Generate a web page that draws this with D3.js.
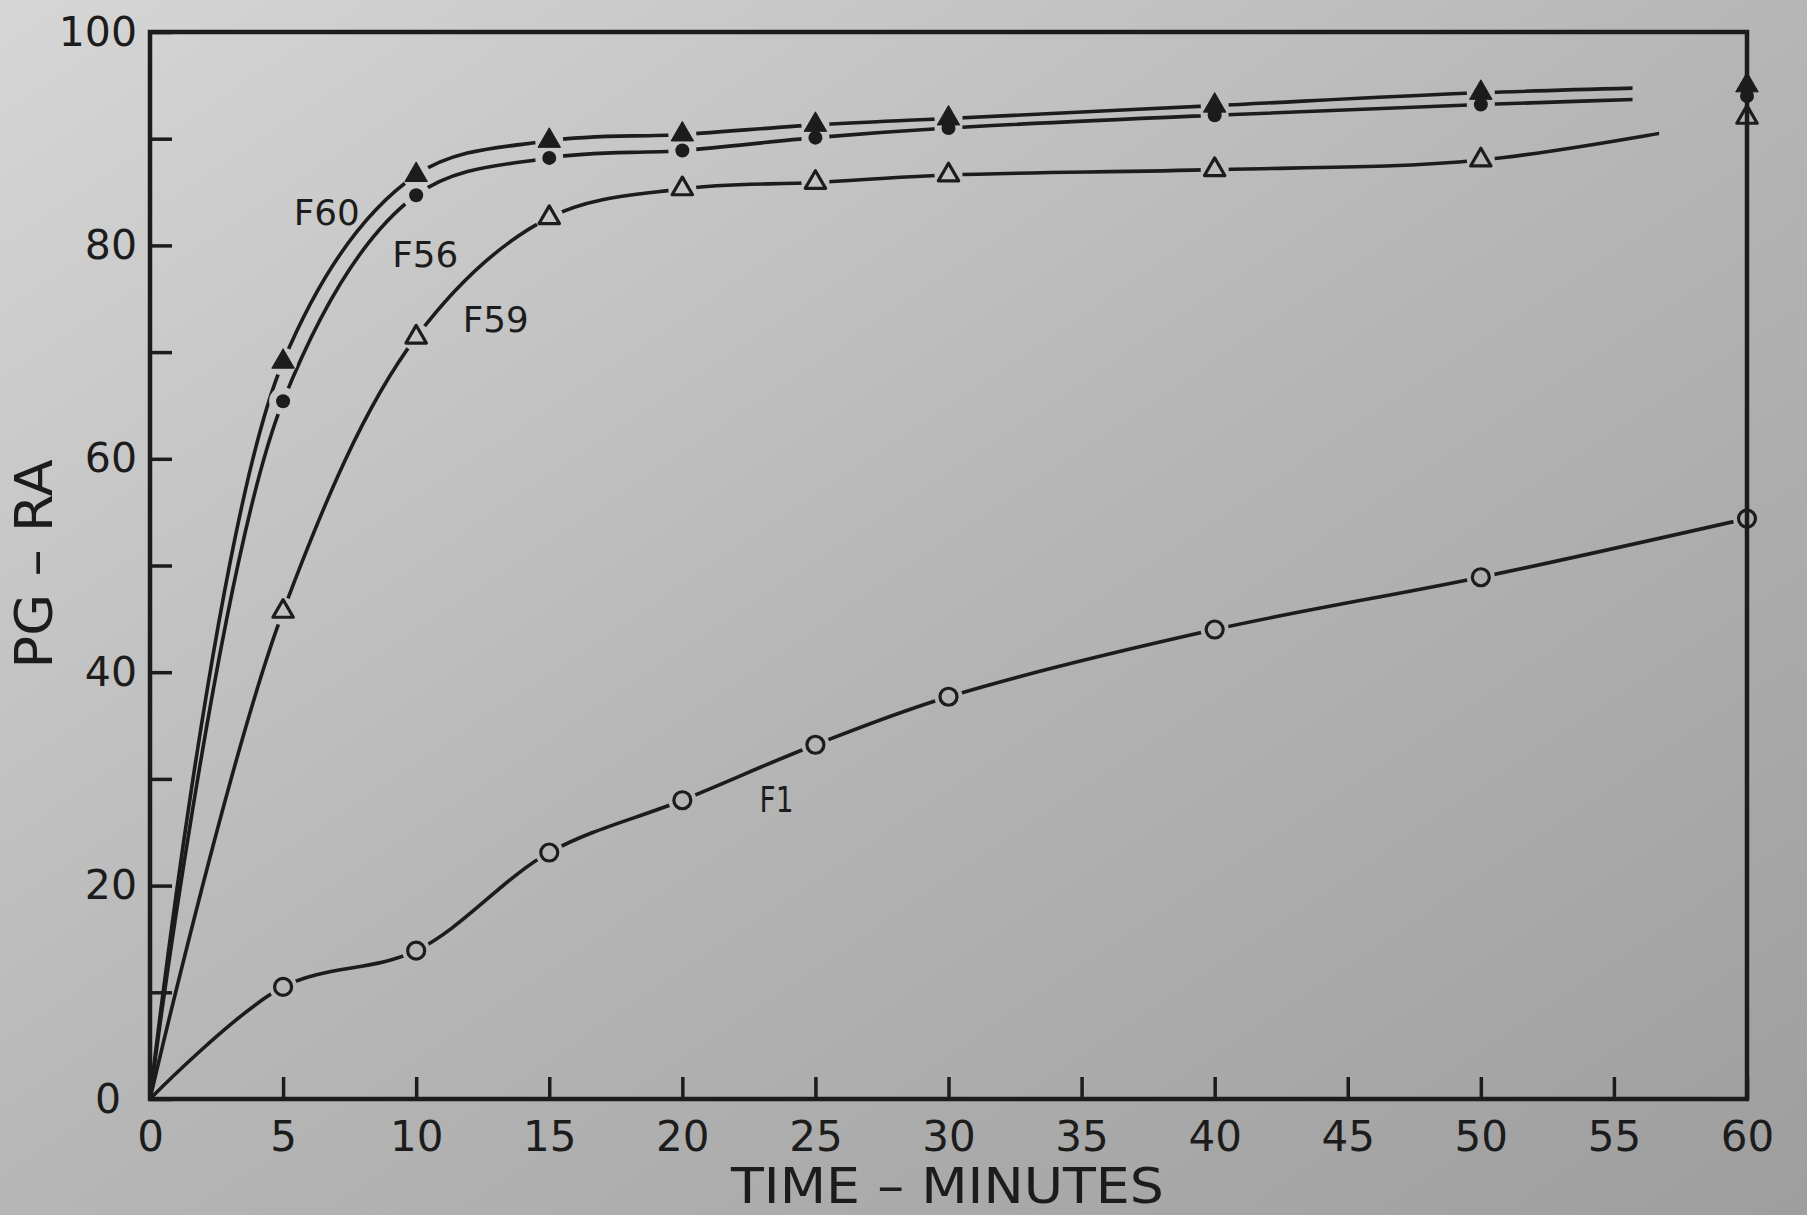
<!DOCTYPE html>
<html><head><meta charset="utf-8">
<script src="https://cdn.jsdelivr.net/npm/d3@7"></script>
<style>html,body{margin:0;padding:0;overflow:hidden;background:#b8b8b8}</style>
</head><body>
<svg id="chart" width="1807" height="1215"></svg>
<script>
// ---- data ----
const times = [0, 5, 10, 15, 20, 25, 30, 40, 50, 60];
const f60 = [0, 69.1, 86.6, 89.8, 90.4, 91.3, 91.9, 93.1, 94.3, 95.0];
const f56 = [0, 65.4, 84.7, 88.2, 88.9, 90.1, 91.0, 92.2, 93.2, 94.0];
const f59 = [0, 45.7, 71.4, 82.6, 85.3, 85.9, 86.6, 87.1, 88.0, 92.0];
const f1  = [0, 10.5, 13.9, 23.1, 28.0, 33.2, 37.7, 44.0, 48.9, 54.4];
const seriesNames = ["F60", "F56", "F59", "F1"];
const lineEnds = [55.7, 55.7, 56.7, 60];   // drawn curve stops here (minutes)
const xTicks = [0, 5, 10, 15, 20, 25, 30, 35, 40, 45, 50, 55, 60];
const yTicks = [0, 10, 20, 30, 40, 50, 60, 70, 80, 90, 100];
const yLabels = [0, 20, 40, 60, 80, 100];
const xTitle = "TIME – MINUTES";
const yTitle = "PG – RA";

(function () {
// ---- layout / style ----
const W = 1807, H = 1215;
const pL = 150, pR = 1747, pT = 32, pB = 1099;
const ink = "#1c1c1c";
const font = "'DejaVu Sans', 'Liberation Sans', sans-serif";

const svg = d3.select("#chart");
const defs = svg.append("defs");

const grad = defs.append("linearGradient").attr("id", "bg")
  .attr("x1", "0").attr("y1", "0").attr("x2", "1").attr("y2", "1");
grad.append("stop").attr("offset", "0").attr("stop-color", "#d6d6d6");
grad.append("stop").attr("offset", "0.5").attr("stop-color", "#b6b6b6");
grad.append("stop").attr("offset", "1").attr("stop-color", "#9e9e9e");
svg.append("rect").attr("width", W).attr("height", H).attr("fill", "url(#bg)");

const x = d3.scaleLinear().domain([0, 60]).range([pL, pR]);
const y = d3.scaleLinear().domain([0, 100]).range([pB, pT]);

const series = [
  { name: seriesNames[0], values: f60, marker: "triFill", end: lineEnds[0] },
  { name: seriesNames[1], values: f56, marker: "dot",     end: lineEnds[1] },
  { name: seriesNames[2], values: f59, marker: "triOpen", end: lineEnds[2] },
  { name: seriesNames[3], values: f1,  marker: "circle",  end: lineEnds[3] }
];
series.forEach(s => s.points = times.map((t, i) => ({ t, v: s.values[i] })));

// mask: gaps in lines around markers
const mask = defs.append("mask").attr("id", "gaps").attr("maskUnits", "userSpaceOnUse")
  .attr("x", 0).attr("y", 0).attr("width", W).attr("height", H);
mask.append("rect").attr("width", W).attr("height", H).attr("fill", "white");
series.forEach(s => {
  mask.selectAll(null).data(s.points.filter(p => p.t > 0)).enter().append("circle")
    .attr("cx", p => x(p.t)).attr("cy", p => y(p.v)).attr("r", 14).attr("fill", "black");
});

// clip per series
series.forEach((s, i) => {
  defs.append("clipPath").attr("id", "clip" + i).append("rect")
    .attr("x", 0).attr("y", 0).attr("width", x(s.end)).attr("height", H);
});

// frame
svg.append("rect").attr("x", pL).attr("y", pT).attr("width", pR - pL).attr("height", pB - pT)
  .attr("fill", "none").attr("stroke", ink).attr("stroke-width", 4.5);

// axes
const xAxis = d3.axisBottom(x).tickValues(xTicks).tickSizeInner(-22).tickSizeOuter(0).tickPadding(22)
  .tickFormat(d3.format("d"));
const gx = svg.append("g").attr("transform", `translate(0,${pB})`).call(xAxis);
gx.select(".domain").remove();
gx.selectAll(".tick line").attr("stroke", ink).attr("stroke-width", 3.5);
gx.selectAll(".tick text").attr("fill", ink).attr("font-family", font).attr("font-size", 42);

const yAxis = d3.axisLeft(y).tickValues(yTicks).tickSizeInner(-22).tickSizeOuter(0).tickPadding(13)
  .tickFormat(d => yLabels.includes(d) ? d : "");
const gy = svg.append("g").attr("transform", `translate(${pL},0)`).call(yAxis);
gy.select(".domain").remove();
gy.selectAll(".tick line").attr("stroke", ink).attr("stroke-width", 3.5);
gy.selectAll(".tick text").attr("fill", ink).attr("font-family", font).attr("font-size", 41)
  .attr("dx", d => d === 0 ? -16 : 0);

// titles
svg.append("text").attr("x", (pL + pR) / 2 - 1).attr("y", 1203)
  .attr("text-anchor", "middle").attr("font-family", font).attr("font-size", 50)
  .attr("textLength", 433).attr("lengthAdjust", "spacingAndGlyphs")
  .attr("fill", ink).text(xTitle);
svg.append("text").attr("transform", "translate(52,564) rotate(-90)")
  .attr("text-anchor", "middle").attr("font-family", font).attr("font-size", 52)
  .attr("textLength", 209).attr("lengthAdjust", "spacingAndGlyphs")
  .attr("fill", ink).text(yTitle);

// lines
const line = d3.line().x(p => x(p.t)).y(p => y(p.v)).curve(d3.curveCatmullRom.alpha(0.5));
const gl = svg.append("g").attr("mask", "url(#gaps)");
series.forEach((s, i) => {
  gl.append("path").attr("d", line(s.points)).attr("clip-path", `url(#clip${i})`)
    .attr("fill", "none").attr("stroke", ink).attr("stroke-width", 3.6)
    .attr("stroke-linecap", "round");
});

// markers
const triFill = d3.symbol().type(d3.symbolTriangle).size(220)();
const triOpen = d3.symbol().type(d3.symbolTriangle).size(180)();
series.forEach(s => {
  const g = svg.append("g");
  const pts = s.points.filter(p => p.t > 0);
  if (s.marker === "circle") {
    g.selectAll("circle").data(pts).enter().append("circle")
      .attr("cx", p => x(p.t)).attr("cy", p => y(p.v)).attr("r", 8.5)
      .attr("fill", "none").attr("stroke", ink).attr("stroke-width", 3.2);
  } else if (s.marker === "dot") {
    g.selectAll("circle").data(pts).enter().append("circle")
      .attr("cx", p => x(p.t)).attr("cy", p => y(p.v)).attr("r", 7)
      .attr("fill", ink);
  } else {
    g.selectAll("path").data(pts).enter().append("path")
      .attr("transform", p => `translate(${x(p.t)},${y(p.v)})`)
      .attr("d", s.marker === "triFill" ? triFill : triOpen)
      .attr("fill", s.marker === "triFill" ? ink : "none")
      .attr("stroke", ink).attr("stroke-width", s.marker === "triFill" ? 1 : 3.2)
      .attr("stroke-linejoin", "round");
  }
});

// curve labels (data-unit anchors)
const labelAt = [[5.4, 81.9], [9.1, 78.0], [11.75, 71.9], [22.9, 26.9]];
series.forEach((s, i) => {
  svg.append("text").attr("x", x(labelAt[i][0])).attr("y", y(labelAt[i][1]))
    .attr("font-family", font).attr("font-size", 36).attr("fill", ink)
    .attr("textLength", s.name === "F1" ? 34 : 66).attr("lengthAdjust", "spacingAndGlyphs")
    .text(s.name);
});
})();
</script>
</body></html>
